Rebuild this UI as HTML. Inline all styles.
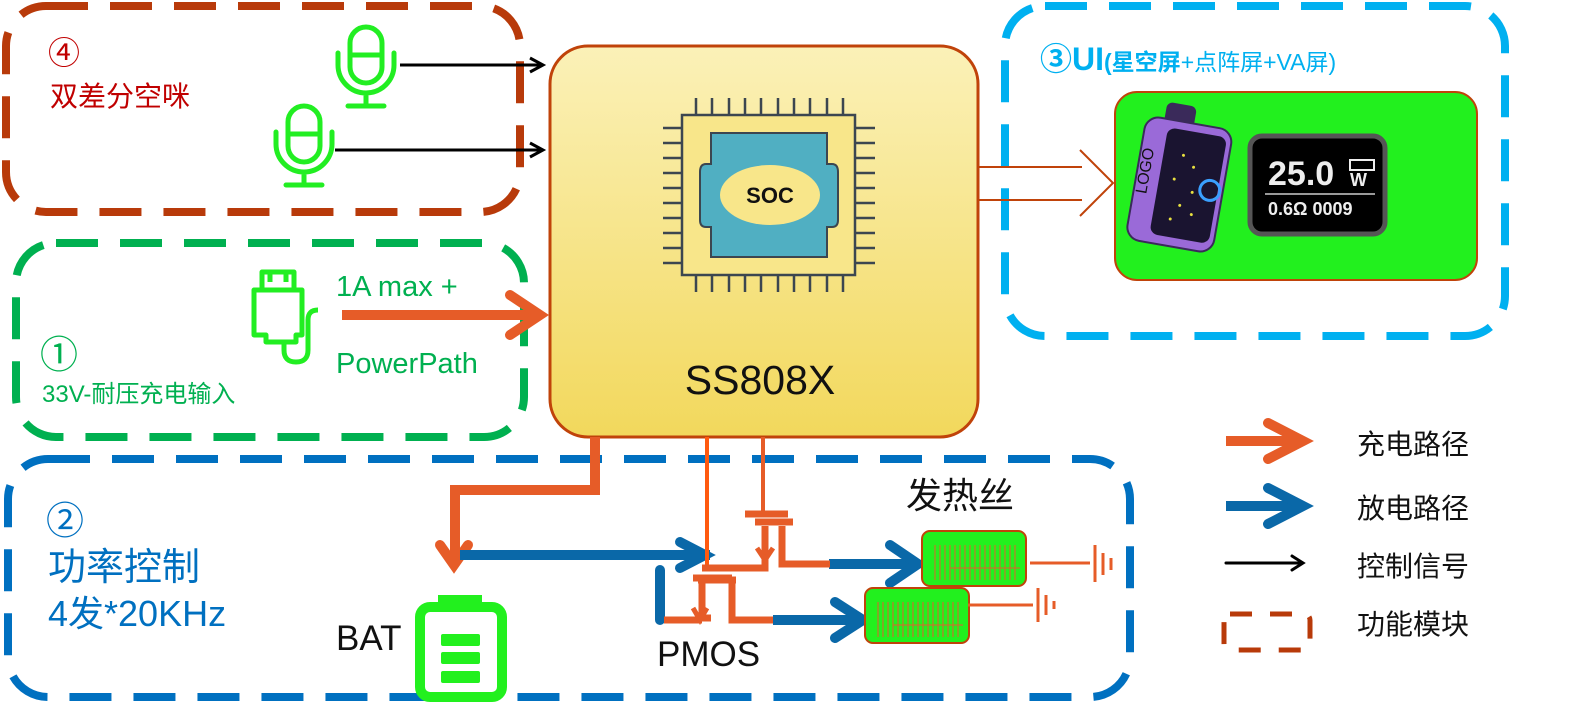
<!DOCTYPE html>
<html><head><meta charset="utf-8"><style>
html,body{margin:0;padding:0;background:#fff;}
svg{display:block;}
text{font-family:"Liberation Sans","Noto Sans CJK SC",sans-serif;}
</style></head><body>
<svg width="1589" height="715" viewBox="0 0 1589 715" xmlns="http://www.w3.org/2000/svg">
<defs>
<linearGradient id="g" x1="0" y1="0" x2="0" y2="1">
<stop offset="0" stop-color="#fbf1b8"/><stop offset="1" stop-color="#f2d85c"/>
</linearGradient>
</defs>
<rect x="6" y="6" width="514" height="206" rx="40" fill="none" stroke="#b83a0a" stroke-width="8" stroke-dasharray="42,22"/>
<rect x="16" y="243" width="508" height="194" rx="40" fill="none" stroke="#00b050" stroke-width="8" stroke-dasharray="42,22"/>
<rect x="8" y="459" width="1122" height="238" rx="40" fill="none" stroke="#0070c0" stroke-width="8" stroke-dasharray="42,22"/>
<rect x="1005" y="6" width="500" height="330" rx="40" fill="none" stroke="#00b0f0" stroke-width="8" stroke-dasharray="42,22"/>

<rect x="550" y="46" width="428" height="391" rx="38" fill="url(#g)" stroke="#c0430a" stroke-width="3"/>
<g stroke="#3c4650" stroke-width="2.5">
<path d="M696 98v17M712 98v17M729 98v17M745 98v17M761 98v17M778 98v17M794 98v17M810 98v17M827 98v17M843 98v17"/>
<path d="M696 275v17M712 275v17M729 275v17M745 275v17M761 275v17M778 275v17M794 275v17M810 275v17M827 275v17M843 275v17"/>
<path d="M663 128h19M663 143h19M663 158h19M663 173h19M663 188h19M663 203h19M663 218h19M663 233h19M663 248h19M663 263h19"/>
<path d="M855 128h20M855 143h20M855 158h20M855 173h20M855 188h20M855 203h20M855 218h20M855 233h20M855 248h20M855 263h20"/>
</g>
<rect x="682" y="115" width="173" height="160" fill="#f8e68a" stroke="#3c4650" stroke-width="2.5"/>
<path d="M711 133H827V164H832Q838 164 838 172V220Q838 227 832 227H827V257H711V227H706Q700 227 700 220V172Q700 164 706 164H711Z" fill="#50afc2" stroke="#3c4650" stroke-width="2"/>
<ellipse cx="770" cy="195" rx="50" ry="30" fill="#f8e68a"/>
<text x="770" y="203" font-size="22" font-weight="bold" text-anchor="middle" fill="#111">SOC</text>
<text x="760" y="394" font-size="41" text-anchor="middle" fill="#111">SS808X</text>

<text x="48" y="64" font-size="32" fill="#c00000">④</text>
<text x="50" y="106" font-size="28" fill="#c00000">双差分空咪</text>
<g fill="none" stroke="#22ee22" stroke-width="5" stroke-linecap="round">
<rect x="350" y="27" width="32" height="56" rx="16"/><path d="M350 55h32M338 53v12a28 28 0 0 0 56 0v-12M366 93v11M348 106h36"/>
<rect x="288" y="106" width="32" height="56" rx="16"/><path d="M288 134h32M276 132v12a28 28 0 0 0 56 0v-12M304 172v11M286 185h36"/>
</g>
<g stroke="#000" stroke-width="3" fill="none">
<path d="M400 65H543M530 58l13 7-13 7"/>
<path d="M335 150H543M530 143l13 7-13 7"/>
</g>

<text x="40" y="368" font-size="38" fill="#00b050">①</text>
<text x="42" y="402" font-size="24" fill="#00b050">33V-耐压充电输入</text>
<text x="336" y="296" font-size="29" fill="#00b050">1A max +</text>
<text x="336" y="373" font-size="29" fill="#00b050">PowerPath</text>
<g fill="none" stroke="#22ee22" stroke-width="5" stroke-linejoin="round">
<rect x="262" y="272" width="32" height="18"/><path d="M270 272v10M286 272v10"/>
<path d="M254 290h48v45h-6v7h-30v-7h-12z"/>
<path d="M284 342v8q0 12 12 12q12 0 12-12v-30q0-10 10-10"/>
</g>
<g stroke="#e65c28" stroke-width="10" stroke-linecap="round" fill="none">
<path d="M342 315H540" stroke-linecap="butt"/><path d="M510 295l30 20-30 20"/>
</g>

<text x="1040" y="70" font-size="32" font-weight="bold" fill="#00b0f0">③UI<tspan font-size="23">(星空屏</tspan><tspan font-size="23" font-weight="normal">+点阵屏+VA屏)</tspan></text>
<rect x="1115" y="92" width="362" height="188" rx="22" fill="#22f01e" stroke="#c0430a" stroke-width="2"/>
<path d="M978 167H1082M978 200H1082M1080 150L1113 183L1080 216" fill="none" stroke="#c0430a" stroke-width="2"/>
<g transform="rotate(10 1180 175)">
<rect x="1155" y="105" width="30" height="22" rx="6" fill="#3a2a5a"/>
<rect x="1137" y="122" width="88" height="125" rx="14" fill="#9a6ad8" stroke="#3a2a5a" stroke-width="2"/>
<rect x="1160" y="130" width="60" height="108" rx="8" fill="#1a1430"/>
<text x="1150" y="200" font-size="16" fill="#111" transform="rotate(-90 1150 200)">LOGO</text>
<circle cx="1212" cy="185" r="10" fill="none" stroke="#3aa0ff" stroke-width="3"/>
<g fill="#e8e040"><circle cx="1180" cy="155" r="1.5"/><circle cx="1192" cy="165" r="1.5"/><circle cx="1175" cy="180" r="1.5"/><circle cx="1195" cy="190" r="1.5"/><circle cx="1185" cy="205" r="1.5"/><circle cx="1178" cy="220" r="1.5"/><circle cx="1198" cy="212" r="1.5"/></g>
</g>
<rect x="1250" y="136" width="135" height="98" rx="12" fill="#000" stroke="#555" stroke-width="5"/>
<text x="1268" y="185" font-size="34" font-weight="bold" fill="#eee" font-family="Liberation Mono,monospace">25.0</text>
<text x="1350" y="186" font-size="18" font-weight="bold" fill="#eee">W</text>
<rect x="1350" y="160" width="24" height="10" fill="none" stroke="#eee" stroke-width="2"/>
<line x1="1265" y1="194" x2="1375" y2="194" stroke="#ccc" stroke-width="1.5"/>
<text x="1268" y="215" font-size="18" font-weight="bold" fill="#eee">0.6Ω 0009</text>

<text x="46" y="534" font-size="38" fill="#0070c0">②</text>
<text x="48" y="580" font-size="38" fill="#0070c0">功率控制</text>
<text x="48" y="626" font-size="36" fill="#0070c0">4发*20KHz</text>

<path d="M595 437V490H455V560" fill="none" stroke="#e65c28" stroke-width="10"/>
<path d="M440 545l14 20 14-20" fill="none" stroke="#e65c28" stroke-width="10" stroke-linecap="round"/>
<text x="336" y="650" font-size="35" fill="#111">BAT</text>
<g fill="#22f01e">
<rect x="438" y="595" width="44" height="14"/>
<rect x="420" y="607" width="82" height="90" rx="10" fill="none" stroke="#22f01e" stroke-width="10"/>
<rect x="441" y="634" width="39" height="12" rx="2"/><rect x="441" y="652" width="39" height="12" rx="2"/><rect x="441" y="671" width="39" height="12" rx="2"/>
</g>
<g stroke="#0a68a8" stroke-width="10" fill="none" stroke-linecap="round">
<path d="M460 555H710" stroke-linecap="butt"/><path d="M680 542l25 13-25 13"/>
<path d="M660 570V620"/>
<path d="M829 564H912" stroke-linecap="butt"/><path d="M890 545l28 19-28 19"/>
<path d="M773 620H858" stroke-linecap="butt"/><path d="M835 602l28 18-28 18"/>
</g>
<g stroke="#e65c28" stroke-width="7" fill="none">
<path d="M707 437V568" stroke="#ff5a10" stroke-width="4"/>
<path d="M763 437V512" stroke-width="4"/>
<path d="M745 514H788M755 522H793"/>
<path d="M702 568H765V526M782 526V564H830"/>
<path d="M698 580H736M693 578H732"/>
<path d="M702 580V618H711M732 580V620H773"/>
<path d="M664 620H702"/>
</g>
<path d="M757 548l8 12 8-12M693 608l7 12 7-12" fill="none" stroke="#e65c28" stroke-width="5"/>
<text x="657" y="666" font-size="35" fill="#111">PMOS</text>
<text x="906" y="508" font-size="36" fill="#111">发热丝</text>
<rect x="922" y="531" width="104" height="55" rx="8" fill="#22f01e" stroke="#c0430a" stroke-width="2"/>
<rect x="865" y="588" width="104" height="55" rx="8" fill="#22f01e" stroke="#c0430a" stroke-width="2"/>
<path d="M950 568h70M935 545v35M940 545v35M945 545v35M950 545v35M955 545v35M960 545v35M965 545v35M970 545v35M975 545v35M980 545v35M985 545v35M990 545v35M995 545v35M1000 545v35M1005 545v35M1010 545v35M1015 545v35" stroke="#e06030" stroke-width="1"/>
<path d="M893 625h70M878 602v35M883 602v35M888 602v35M893 602v35M898 602v35M903 602v35M908 602v35M913 602v35M918 602v35M923 602v35M928 602v35M933 602v35M938 602v35M943 602v35M948 602v35M953 602v35M958 602v35" stroke="#e06030" stroke-width="1"/>
<g stroke="#e65c28" stroke-width="3" fill="none">
<path d="M1030 563H1090M1095 545V582M1103 553V575M1111 558V570"/>
<path d="M968 605H1033M1038 588V622M1046 595V615M1054 601V609"/>
</g>

<g stroke-linecap="round" fill="none">
<path d="M1226 441H1300" stroke="#e65c28" stroke-width="10" stroke-linecap="butt"/><path d="M1268 423l35 18-35 18" stroke="#e65c28" stroke-width="10"/>
<path d="M1226 506H1300" stroke="#0a68a8" stroke-width="10" stroke-linecap="butt"/><path d="M1268 488l35 18-35 18" stroke="#0a68a8" stroke-width="10"/>
<path d="M1226 563H1303M1292 556l11 7-11 7" stroke="#000" stroke-width="3"/>
</g>
<rect x="1224" y="614" width="86" height="36" rx="6" fill="none" stroke="#b83a0a" stroke-width="5" stroke-dasharray="22,18"/>
<g font-size="28" fill="#111">
<text x="1357" y="454">充电路径</text>
<text x="1357" y="518">放电路径</text>
<text x="1357" y="576">控制信号</text>
<text x="1357" y="634">功能模块</text>
</g>
</svg>
</body></html>
